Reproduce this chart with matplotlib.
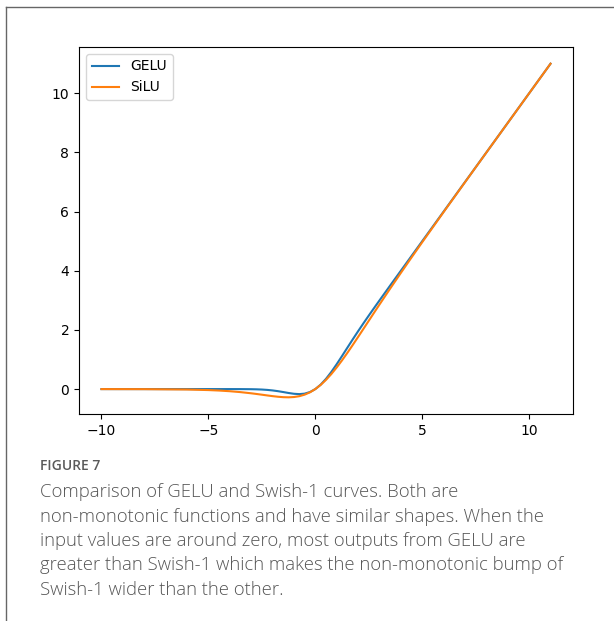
import matplotlib
matplotlib.use("Agg")
import matplotlib.pyplot as plt
from matplotlib.lines import Line2D

x_vals = [-10, -8, -6, -5, -4.5, -4, -3.5, -3, -2.75, -2.5, -2.25, -2, -1.75, -1.5,
          -1.25, -1, -0.75, -0.5, -0.25, 0, 0.25, 0.5, 0.75, 1, 1.25, 1.5, 1.75, 2,
          2.25, 2.5, 2.75, 3, 3.5, 4, 4.5, 5, 6, 7, 8, 11]
gelu_vals = [0.0, 0.0, 0.0, -0.000001, -0.000015, -0.000127, -0.000814, -0.00405,
             -0.00819, -0.01553, -0.0275, -0.0455, -0.0701, -0.1002, -0.1321, -0.1587,
             -0.1700, -0.1543, -0.1003, 0.0, 0.1497, 0.3457, 0.5800, 0.8413, 1.1179,
             1.3998, 1.6799, 1.9545, 2.2225, 2.4845, 2.7418, 2.9960, 3.4992, 3.9999,
             4.5, 5.0, 6.0, 7.0, 8.0, 11.0]
silu_vals = [-0.000454, -0.00268, -0.01484, -0.03346, -0.04945, -0.07194, -0.1026,
             -0.1423, -0.1653, -0.1896, -0.2145, -0.2384, -0.2590, -0.2736, -0.2784,
             -0.2689, -0.2406, -0.1888, -0.1094, 0.0, 0.1406, 0.3112, 0.5094, 0.7311,
             0.9716, 1.2264, 1.4910, 1.7616, 2.0355, 2.3103, 2.5847, 2.8577, 3.3974,
             3.9281, 4.4505, 4.9665, 5.9852, 6.9936, 7.9973, 10.9998]
series_names = ["GELU", "SiLU"]

caption_title = "FIGURE 7"
caption_lines = [
    "Comparison of GELU and Swish-1 curves. Both are",
    "non-monotonic functions and have similar shapes. When the",
    "input values are around zero, most outputs from GELU are",
    "greater than Swish-1 which makes the non-monotonic bump of",
    "Swish-1 wider than the other.",
]

W, H = 614, 621
fig = plt.figure(figsize=(W / 100, H / 100), dpi=100)
ax = fig.add_axes([79 / W, 1 - 414 / H, (573 - 79) / W, (414 - 47) / H])
ax.plot(x_vals, gelu_vals, color="#1f77b4", label=series_names[0])
ax.plot(x_vals, silu_vals, color="#ff7f0e", label=series_names[1])
ax.set_xticks([-10, -5, 0, 5, 10])
ax.set_yticks([0, 2, 4, 6, 8, 10])
ax.legend(loc="upper left")

# card border (top and left)
fig.add_artist(Line2D([6 / W, 1.0], [1 - 7 / H, 1 - 7 / H], color="#666666", lw=1.0))
fig.add_artist(Line2D([6 / W, 6 / W], [1 - 7 / H, 0.0], color="#666666", lw=1.0))

fig.text(40 / W, 1 - 466 / H, caption_title, fontsize=10, color="#5a5a5a",
         family="Open Sans", fontweight="semibold", va="center", ha="left")
for i, line in enumerate(caption_lines):
    fig.text(40 / W, 1 - (492 + 24.5 * i) / H, line, fontsize=13.3, color="#555555",
             family="Open Sans", fontweight="light", va="center", ha="left")

fig.savefig("out.png", dpi=100)
